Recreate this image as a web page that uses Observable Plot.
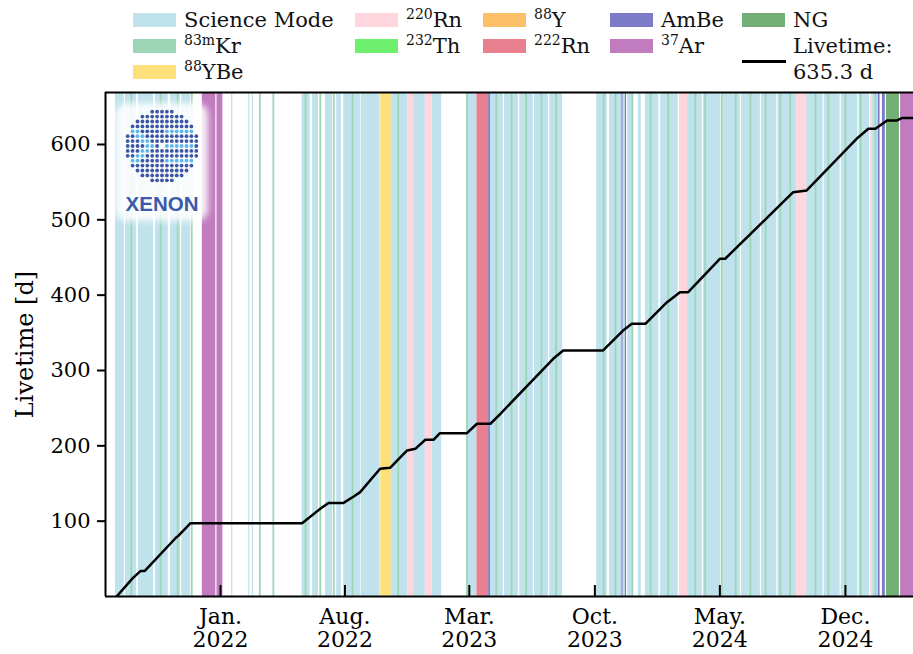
<!DOCTYPE html>
<html>
<head>
<meta charset="utf-8">
<script src="https://cdn.jsdelivr.net/npm/d3@7"></script>
<script src="https://cdn.jsdelivr.net/npm/@observablehq/plot@0.6"></script>
<style>
  body { margin: 0; background: white; }
  #wrap { position: relative; width: 913px; height: 654px; overflow: hidden; background: white; }
  #legend { position: relative; height: 84px; font-family: "DejaVu Serif", serif; font-size: 21px; color: #111; }
  .sw { position: absolute; width: 43px; height: 14px; }
  .lt { position: absolute; line-height: 21px; white-space: nowrap; }
  .lt sup { font-size: 14px; vertical-align: 0; position: relative; top: -8px; }
  #logo { position: absolute; left: 0; top: 0; pointer-events: none; }
</style>
</head>
<body>
<div id="wrap">
  <div id="legend"></div>
  <div id="chart"></div>
  <svg id="logo" width="913" height="654"></svg>
</div>
<script>
// ---------------- DATA ----------------
const categories = ["Science Mode", "83mKr", "88YBe", "220Rn", "232Th", "88Y", "222Rn", "AmBe", "37Ar", "NG"];
const categoryColors = ["#bfe2ed", "#9dd6b5", "#fde07a", "#ffd6dd", "#6ef06e", "#fcc068", "#e8808f", "#7b7bc8", "#c07cbe", "#72b075"];
const livetimeTotal = "635.3 d";

const scienceMode = [
  ["2021-07-06","2021-07-21"],["2021-07-23","2021-08-11"],["2021-08-14","2021-09-09"],["2021-09-12","2021-10-04"],
  ["2021-10-08","2021-10-25"],["2021-10-27","2021-11-11"],
  ["2022-01-20","2022-01-22"],["2022-02-18","2022-02-20"],["2022-02-24","2022-02-26"],
  ["2022-05-20","2022-06-03"],["2022-06-07","2022-06-17"],["2022-06-29","2022-07-11"],["2022-07-18","2022-07-26"],
  ["2022-07-30","2022-08-28"],["2022-08-29","2022-09-30"],
  ["2022-10-19","2022-11-16"],["2022-11-26","2022-12-16"],["2022-12-28","2023-01-13"],
  ["2023-02-25","2023-03-14"],
  ["2023-04-06","2023-04-28"],["2023-04-30","2023-05-24"],["2023-05-26","2023-06-18"],["2023-06-20","2023-07-14"],
  ["2023-07-16","2023-08-07"],
  ["2023-10-04","2023-10-22"],["2023-10-26","2023-11-16"],["2023-11-18","2023-11-22"],["2023-11-26","2023-12-04"],["2023-12-14","2023-12-19"],
  ["2023-12-26","2024-01-18"],["2024-01-21","2024-02-20"],["2024-03-07","2024-04-01"],["2024-04-03","2024-05-02"],
  ["2024-05-04","2024-06-05"],["2024-06-07","2024-07-09"],["2024-07-11","2024-08-06"],["2024-08-08","2024-09-09"],
  ["2024-09-26","2024-10-24"],["2024-10-26","2024-11-22"],["2024-11-24","2024-12-22"],["2024-12-24","2025-01-11"],
  ["2025-01-16","2025-01-26"]
];
const kr83m = ["2021-08-02","2021-09-21","2021-10-20","2021-11-13","2022-03-09","2022-04-01","2022-05-26","2022-06-20","2022-07-13",
  "2022-08-14","2022-10-31","2023-02-25","2023-04-16","2023-05-12","2023-06-06","2023-07-02","2023-07-27","2023-10-16",
  "2023-11-05","2023-12-04","2024-01-04","2024-02-03","2024-03-20","2024-04-06","2024-05-04","2024-05-28","2024-06-22",
  "2024-07-18","2024-08-12","2024-08-29","2024-10-11","2024-11-02","2024-12-01","2024-12-27","2025-01-21"];
const th232 = [];
const ybe88 = [["2022-10-01","2022-10-19"]];
const rn220 = [["2022-11-16","2022-11-26"],["2022-12-16","2022-12-28"],["2024-02-22","2024-03-07"],["2024-09-09","2024-09-26"],["2025-01-13","2025-01-16"]];
const y88 = [];
const rn222 = [["2023-03-14","2023-04-03"]];
const ambe = [["2023-04-03","2023-04-06"],["2023-11-16","2023-11-18"],["2023-11-22","2023-11-24"],["2025-01-26","2025-01-29"],["2025-02-02","2025-02-07"]];
const ar37 = [["2021-12-01","2021-12-24"],["2021-12-26","2022-01-05"],["2025-03-05","2025-04-01"]];
const ng = [["2025-02-09","2025-03-03"]];

const livetimeDates = ["2021-07-08","2021-08-04","2021-08-18","2021-08-25","2021-10-17","2021-10-21","2021-11-11",
  "2022-05-20","2022-06-20","2022-07-04","2022-07-29","2022-08-16","2022-08-27","2022-09-30","2022-10-17","2022-11-15",
  "2022-11-29","2022-12-16","2022-12-30","2023-01-10","2023-02-25","2023-03-14","2023-04-06","2023-04-23","2023-07-22",
  "2023-08-08","2023-10-15","2023-11-18","2023-12-03","2023-12-26","2024-02-01","2024-02-23","2024-03-08","2024-05-01",
  "2024-05-10","2024-09-03","2024-09-26","2024-12-20","2025-01-09","2025-01-21","2025-02-10","2025-02-27","2025-03-08","2025-03-27"];
const livetimeValues = [0,24,34,34,78,80.5,97.3,
  97.3,116.4,124,124,132.7,138.5,169.5,170.8,193.8,
  196,208,208,216.8,216.8,229.3,229.3,242.5,315.5,
  326.6,326.6,353,362,362,390.7,404,404,448.3,
  448.3,536.7,539,607.6,620.8,620.8,631.9,631.9,635.3,635.3];

const xDomain = ["2021-06-19", "2025-03-27"];
const yDomain = [0, 669];
const xTicks = ["2022-01-01","2022-08-01","2023-03-01","2023-10-01","2024-05-01","2024-12-01"];
const yTicks = [100, 200, 300, 400, 500, 600];
const yLabel = "Livetime [d]";

// ---------------- TABLES ----------------
const D = s => new Date(s);
const col = name => categoryColors[categories.indexOf(name)];
const spanSets = [["Science Mode", scienceMode], ["88YBe", ybe88], ["220Rn", rn220], ["88Y", y88], ["222Rn", rn222], ["AmBe", ambe], ["37Ar", ar37], ["NG", ng]];
const bands = spanSets.flatMap(([name, arr]) => arr.map(([a, b]) => ({start: D(a), end: D(b), color: col(name)})));
const lineSets = [["83mKr", kr83m], ["232Th", th232]];
const lines = lineSets.flatMap(([name, arr]) => arr.map(d => ({date: D(d), color: col(name)})));
const livetime = livetimeDates.map((d, i) => ({date: D(d), value: livetimeValues[i]}));
const xTickDates = xTicks.map(D);

// ---------------- PLOT ----------------
const chart = Plot.plot({
  width: 913, height: 570,
  marginTop: 8, marginBottom: 58, marginLeft: 105, marginRight: 0,
  style: {fontFamily: "DejaVu Serif", fontSize: "20px", color: "black", background: "white", overflow: "visible"},
  x: {type: "utc", domain: xDomain.map(D)},
  y: {domain: yDomain},
  color: {type: "identity"},
  marks: [
    Plot.rect(bands, {x1: "start", x2: "end", fill: "color", clip: true}),
    Plot.ruleX(lines, {x: "date", stroke: "color", strokeWidth: 1.8, clip: true}),
    Plot.line(livetime, {x: "date", y: "value", stroke: "black", strokeWidth: 2.5, clip: true}),
    Plot.ruleX(xTickDates, {x: d => d, y1: 0, y2: 14.6, stroke: "black", strokeWidth: 2}),
    Plot.axisY({ticks: yTicks, tickSize: 8, tickPadding: 7, fontSize: 21, strokeWidth: 2, label: null}),
    Plot.axisX({ticks: xTickDates, tickSize: 0, tickPadding: 11, tickFormat: d3.utcFormat("%b.\n%Y"), fontSize: 22, lineHeight: 1.05, label: null}),
    Plot.text([yLabel], {frameAnchor: "left", dx: -80, rotate: -90, textAnchor: "middle", fontSize: 24, fill: "black"}),
    Plot.ruleY([yDomain[0], yDomain[1]], {stroke: "black", strokeWidth: 2}),
    Plot.ruleX([D(xDomain[0])], {stroke: "black", strokeWidth: 2})
  ]
});
document.getElementById("chart").appendChild(chart);

// ---------------- LEGEND ----------------
const legendEntries = [
  {html: "Science Mode", cat: "Science Mode"},
  {html: "<sup>83m</sup>Kr", cat: "83mKr"},
  {html: "<sup>88</sup>YBe", cat: "88YBe"},
  {html: "<sup>220</sup>Rn", cat: "220Rn"},
  {html: "<sup>232</sup>Th", cat: "232Th"},
  {html: "<sup>88</sup>Y", cat: "88Y"},
  {html: "<sup>222</sup>Rn", cat: "222Rn"},
  {html: "AmBe", cat: "AmBe"},
  {html: "<sup>37</sup>Ar", cat: "37Ar"},
  {html: "NG", cat: "NG"}
];
const colX = [133, 355, 483, 610, 742];
const colRows = [[0,1,2],[3,4],[5,6],[7,8],[9]];
const legend = document.getElementById("legend");
colRows.forEach((rows, c) => rows.forEach((ei, r) => {
  const e = legendEntries[ei];
  const sw = document.createElement("div");
  sw.className = "sw";
  sw.style.left = colX[c] + "px"; sw.style.top = (13 + r * 26) + "px";
  sw.style.background = col(e.cat);
  legend.appendChild(sw);
  const t = document.createElement("div");
  t.className = "lt";
  t.style.left = (colX[c] + 51) + "px"; t.style.top = (10 + r * 26) + "px";
  t.innerHTML = e.html;
  legend.appendChild(t);
}));
// livetime entry
const lsw = document.createElement("div");
lsw.style.cssText = "position:absolute;left:742px;top:60px;width:44px;height:2.5px;background:black";
legend.appendChild(lsw);
[["Livetime:", 1], [livetimeTotal, 2]].forEach(([txt, r]) => {
  const t = document.createElement("div");
  t.className = "lt";
  t.style.left = "793px"; t.style.top = (10 + r * 26) + "px";
  t.textContent = txt;
  legend.appendChild(t);
});

// ---------------- LOGO ----------------
const logo = d3.select("#logo");
const defs = logo.append("defs");
const flt = defs.append("filter").attr("id", "blur").attr("x", "-20%").attr("y", "-20%").attr("width", "140%").attr("height", "140%");
flt.append("feGaussianBlur").attr("stdDeviation", 3);
logo.append("rect").attr("x", 115).attr("y", 103).attr("width", 93).attr("height", 118).attr("rx", 12)
  .attr("fill", "white").attr("opacity", 0.88).attr("filter", "url(#blur)");
const cx = 162, cy = 146, step = 4.9;
for (let j = -7; j <= 7; j++) {
  for (let i = -7; i <= 7; i++) {
    if (i * i + j * j > 7.4 * 7.4) continue;
    if (i === 0 && j === 0) continue;
    const aj = Math.abs(j);
    let light = false;
    if (aj <= 3 && (i === -6 + (3 - aj) || i === -5 + (3 - aj))) light = true;
    if ((j === -3 || j === 0 || j === 3) && i >= 1 && i <= 6) light = true;
    logo.append("circle").attr("cx", cx + i * step).attr("cy", cy + j * step).attr("r", 1.9)
      .attr("fill", light ? "#5cb8ec" : "#3d56a6");
  }
}
logo.append("text").attr("x", 162).attr("y", 211).attr("text-anchor", "middle")
  .attr("font-family", "Liberation Sans, Arial, sans-serif").attr("font-weight", "bold").attr("font-size", 20.5)
  .attr("fill", "#3d5aa8").text("XENON");
</script>
</body>
</html>
